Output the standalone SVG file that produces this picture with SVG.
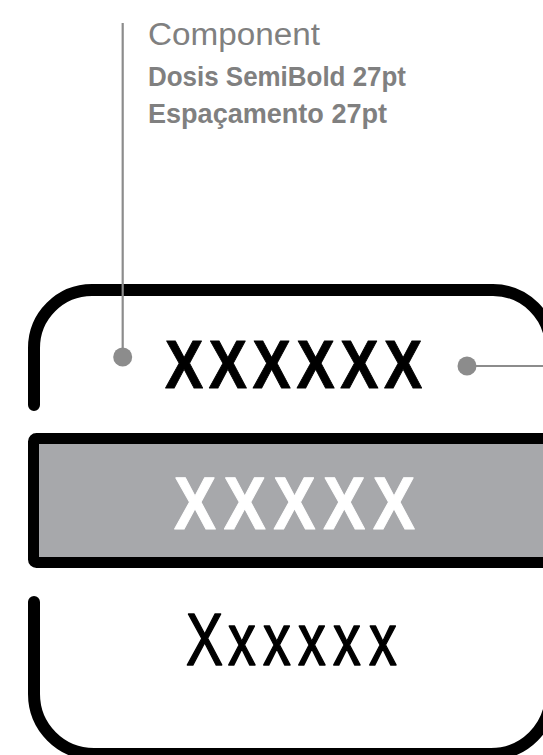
<svg xmlns="http://www.w3.org/2000/svg" width="543" height="755" viewBox="0 0 543 755">
<style>
.frame{fill:none;stroke:#000;stroke-width:12;stroke-linecap:round;stroke-linejoin:round}
.lead{stroke:#8c8c8c;stroke-width:2.2;fill:none}
.dot{fill:#8c8c8c}
.lbl{font-family:"Liberation Sans",Arial,sans-serif;fill:#808080}
.big{font-family:"Liberation Sans",Arial,sans-serif;stroke-linejoin:round}
</style>
<rect width="543" height="755" fill="#fff"/>
<g id="label">
<text class="lbl" x="148" y="45" font-size="31" font-weight="300" fill="#8a8a8a" textLength="172" lengthAdjust="spacingAndGlyphs">Component</text>
<text class="lbl" x="148" y="86" font-size="27" font-weight="700" textLength="258" lengthAdjust="spacingAndGlyphs">Dosis SemiBold 27pt</text>
<text class="lbl" x="148" y="123" font-size="27" font-weight="700" textLength="239" lengthAdjust="spacingAndGlyphs">Espaçamento 27pt</text>
</g>
<g id="top-item">
<path class="frame" d="M34,405 L34,348 A58,58 0 0 1 92,290 L493,290 A58,58 0 0 1 551,348 L551,420"/>
<text class="big" transform="scale(0.83,1)" x="198.8 251.6 304.3 357.1 409.9 462.7" y="388" font-size="69" font-weight="700" fill="#000" stroke="#000" stroke-width="1">XXXXXX</text>
</g>
<g id="middle-item">
<rect x="33.5" y="438.5" width="530" height="124" rx="3" fill="#a7a8ab" stroke="#000" stroke-width="11"/>
<text class="big" transform="scale(0.85,1)" x="204.7 263.2 321.8 380.3 438.8" y="529" font-size="74" font-weight="700" fill="#fff" stroke="#fff" stroke-width="1">XXXXX</text>
</g>
<g id="bottom-item">
<path class="frame" d="M34,602 L34,694 A60,60 0 0 0 94,754 L491,754 A60,60 0 0 0 551,694 L551,600"/>
<text class="big" transform="scale(0.75,1)" x="248 304 350.7 397.3 444 492" y="665" font-size="74" font-weight="400" fill="#000" stroke="#000" stroke-width="1.5">Xxxxxx</text>
</g>
<g id="connectors">
<line class="lead" x1="122.7" y1="23" x2="122.7" y2="357"/>
<circle class="dot" cx="122.7" cy="357" r="9.5"/>
<line class="lead" x1="467" y1="366" x2="545" y2="366"/>
<circle class="dot" cx="467" cy="366" r="9.5"/>
</g>
</svg>
